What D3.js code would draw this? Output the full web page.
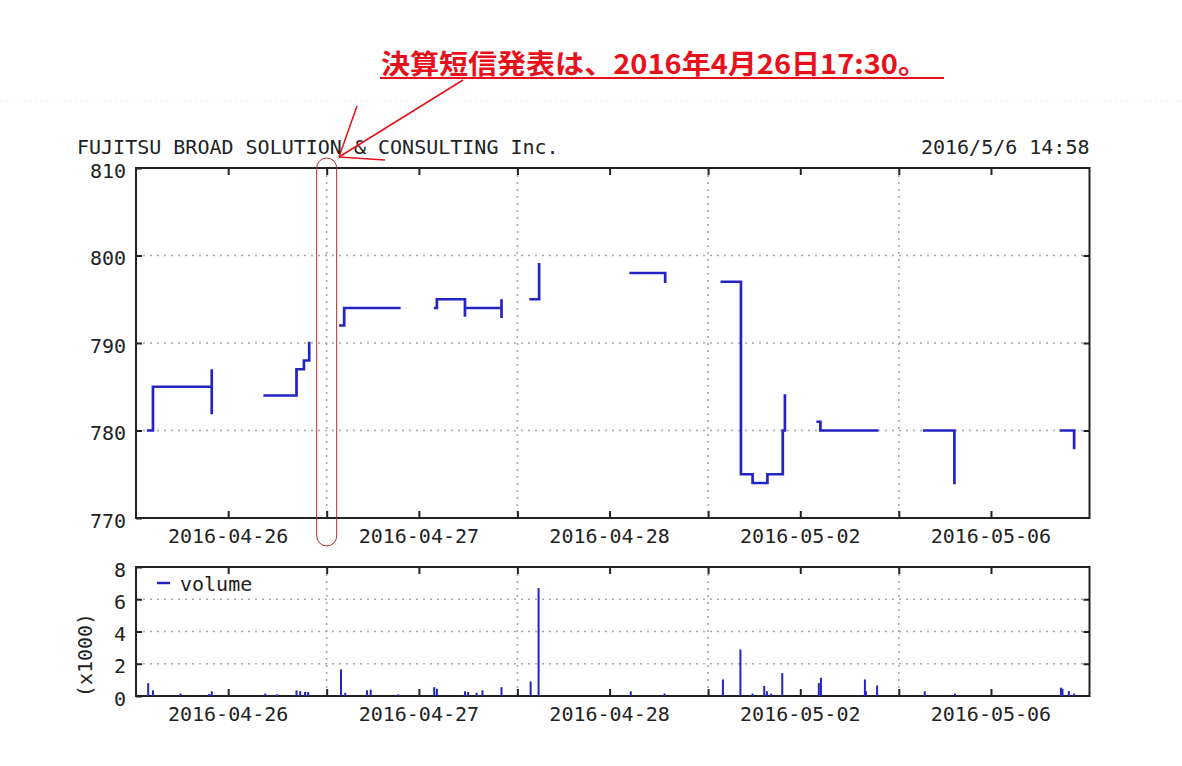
<!DOCTYPE html>
<html><head><meta charset="utf-8">
<script src="https://cdn.jsdelivr.net/npm/d3@7"></script>
<style>body{margin:0;background:#fff}svg{display:block}</style>
</head><body>
<svg id="c" width="1182" height="766"></svg>
<script>
// ---------- data ----------
const days = ["2016-04-26","2016-04-27","2016-04-28","2016-05-02","2016-05-06"];
const dayLabelTime = "11:54";
const priceTicks = [770,780,790,800,810];
const volumeTicks = [0,2,4,6,8];
const chartTitle = "FUJITSU BROAD SOLUTION & CONSULTING Inc.";
const chartStamp = "2016/5/6 14:58";
const noteText = "決算短信発表は、2016年4月26日17:30。";

// price segments: [dayIndex, time, price]
const price0426am = [[0,"09:23",780],[0,"09:32",785],[0,"11:23",787],[0,"11:23",782]];
const price0426pm = [[0,"13:03",784],[0,"14:03",787],[0,"14:17",788],[0,"14:27",790]];
const price0427am = [[1,"09:26",792],[1,"09:33",794],[1,"11:17",794]];
const price0427pm = [[1,"12:25",794],[1,"12:28",795],[1,"13:21",793],[1,"13:21",794],[1,"14:30",795],[1,"14:30",793]];
const price0428am = [[2,"09:25",795],[2,"09:41",799]];
const price0428pm = [[2,"12:34",798],[2,"13:39",797]];
const price0502am = [[3,"09:26",797],[3,"10:02",775],[3,"10:24",774],[3,"10:52",775],[3,"11:21",780],[3,"11:25",784]];
const price0502pm = [[3,"12:27",781],[3,"12:32",780],[3,"14:19",780]];
const price0506am = [[4,"09:48",780],[4,"10:45",774]];
const price0506pm = [[4,"14:06",780],[4,"14:31",778]];
const priceSegments = [price0426am,price0426pm,price0427am,price0427pm,price0428am,
                       price0428pm,price0502am,price0502pm,price0506am,price0506pm];

// volume: [dayIndex, time, shares]
const vol0426 = [[0,"09:23",800],[0,"09:32",350],[0,"10:24",150],[0,"11:18",120],[0,"11:23",290],
                 [0,"13:04",150],[0,"13:26",100],[0,"14:03",350],[0,"14:10",300],[0,"14:19",250],[0,"14:25",250]];
const vol0427 = [[1,"09:27",1650],[1,"09:35",200],[1,"10:16",350],[1,"10:23",400],[1,"11:15",100],
                 [1,"12:23",550],[1,"12:28",450],[1,"13:21",290],[1,"13:27",250],[1,"13:43",200],[1,"13:54",350],[1,"14:30",550]];
const vol0428 = [[2,"09:25",900],[2,"09:40",6700],[2,"12:34",290],[2,"13:38",150]];
const vol0502 = [[3,"09:28",1030],[3,"10:01",2890],[3,"10:24",150],[3,"10:46",630],[3,"10:51",300],[3,"10:59",150],
                 [3,"11:20",1420],[3,"12:29",800],[3,"12:33",1130],[3,"13:56",1030],[3,"13:58",300],[3,"14:19",650]];
const vol0506 = [[4,"09:49",290],[4,"10:46",150],[4,"14:06",520],[4,"14:09",450],[4,"14:21",300],[4,"14:31",150]];
const volumeData = [].concat(vol0426,vol0427,vol0428,vol0502,vol0506);

// ---------- setup ----------
const svg = d3.select("#c");
const MONO = "'DejaVu Sans Mono', 'Liberation Mono', monospace";
const INK = "#222";
const BLUE = "#2424c2";
const GRID = "#a8a8a8";
const L = 136, R = 1089.5;
const minutesPerDay = 360;
const tOf = (d, hm) => { const [h,m] = hm.split(":").map(Number); return d*minutesPerDay + (h*60+m) - 540; };

const x = d3.scaleLinear().domain([0, days.length*minutesPerDay]).range([L, R]);
const yP = d3.scaleLinear().domain([770, 810]).range([518, 168]);
const yV = d3.scaleLinear().domain([0, 8000]).range([696, 567]);

// faint page line
svg.append("line").attr("x1",0).attr("x2",1182).attr("y1",101).attr("y2",101)
  .attr("stroke","#ececec").attr("stroke-dasharray","2,3");

function panel(y, ticks, tickFmt, gridVals, dayLabelY) {
  const [b, t] = y.range();
  const g = svg.append("g");
  gridVals.forEach(v => g.append("line").attr("x1",L).attr("x2",R).attr("y1",y(v)).attr("y2",y(v))
    .attr("stroke",GRID).attr("stroke-width",1.6).attr("stroke-dasharray","2,5"));
  for (let d = 1; d < days.length; d++) {
    g.append("line").attr("x1",x(d*minutesPerDay)).attr("x2",x(d*minutesPerDay)).attr("y1",t).attr("y2",b)
      .attr("stroke",GRID).attr("stroke-width",1.6).attr("stroke-dasharray","2,5");
  }
  const left = d3.axisLeft(y).tickValues(ticks).tickSize(-6).tickPadding(10).tickFormat(tickFmt);
  const la = g.append("g").attr("transform",`translate(${L},0)`).call(left);
  la.select(".domain").remove();
  la.selectAll("line").attr("stroke",INK).attr("stroke-width",2);
  la.selectAll("text").attr("font-family",MONO).attr("font-size",20).attr("fill",INK).attr("dy","0.45em");
  const right = d3.axisRight(y).tickValues(ticks.slice(1,-1)).tickSize(-6).tickFormat("");
  const ra = g.append("g").attr("transform",`translate(${R},0)`).call(right);
  ra.select(".domain").remove();
  ra.selectAll("line").attr("stroke",INK).attr("stroke-width",2);
  const mids = days.map((d,i) => tOf(i, dayLabelTime));
  const bounds = d3.range(1, days.length).map(d => d*minutesPerDay);
  const xt = mids.concat(bounds);
  const bottom = d3.axisBottom(x).tickValues(xt).tickSize(-7).tickFormat("");
  const ba = g.append("g").attr("transform",`translate(0,${b})`).call(bottom);
  ba.select(".domain").remove(); ba.selectAll("line").attr("stroke",INK).attr("stroke-width",2);
  const top = d3.axisTop(x).tickValues(xt).tickSize(-7).tickFormat("");
  const ta = g.append("g").attr("transform",`translate(0,${t})`).call(top);
  ta.select(".domain").remove(); ta.selectAll("line").attr("stroke",INK).attr("stroke-width",2);
  days.forEach((d,i) => g.append("text").attr("x",x(mids[i])).attr("y",dayLabelY)
    .attr("text-anchor","middle").attr("font-family",MONO).attr("font-size",20).attr("fill",INK).text(d));
  g.append("rect").attr("x",L).attr("y",t).attr("width",R-L).attr("height",b-t)
    .attr("fill","none").attr("stroke",INK).attr("stroke-width",2);
  return g;
}

panel(yP, priceTicks, d3.format("d"), [780,790,800], 543);
panel(yV, volumeTicks.map(v=>v*1000), v => v/1000, [2000,4000,6000], 721);

// price line
const line = d3.line().x(p => x(tOf(p[0],p[1]))).y(p => yP(p[2])).curve(d3.curveStepAfter);
svg.append("g").selectAll("path").data(priceSegments).join("path")
  .attr("d", line).attr("fill","none").attr("stroke",BLUE).attr("stroke-width",2.7)
  .attr("stroke-linejoin","miter").attr("stroke-linecap","square");

// volume bars
svg.append("g").selectAll("line").data(volumeData).join("line")
  .attr("x1", p => x(tOf(p[0],p[1]))).attr("x2", p => x(tOf(p[0],p[1])))
  .attr("y1", yV(0)).attr("y2", p => yV(p[2]))
  .attr("stroke",BLUE).attr("stroke-width",2);

// legend
svg.append("line").attr("x1",157).attr("x2",170).attr("y1",583).attr("y2",583).attr("stroke",BLUE).attr("stroke-width",2.5);
svg.append("text").attr("x",180).attr("y",591).attr("font-family",MONO).attr("font-size",20).attr("fill",INK).text("volume");
svg.append("text").attr("transform","translate(92,655) rotate(-90)").attr("text-anchor","middle")
  .attr("font-family",MONO).attr("font-size",20).attr("fill",INK).text("(x1000)");

// title + stamp
svg.append("text").attr("x",77).attr("y",154).attr("font-family",MONO).attr("font-size",20).attr("fill",INK).text(chartTitle);
svg.append("text").attr("x",R).attr("y",154).attr("text-anchor","end").attr("font-family",MONO).attr("font-size",20).attr("fill",INK).text(chartStamp);

// annotation
const RED = "#e8101a";
svg.append("text").attr("x",381).attr("y",74).attr("font-family","'Noto Sans CJK JP', sans-serif")
  .attr("font-weight",700).attr("font-size",27).attr("fill",RED)
  .attr("textLength",546).attr("lengthAdjust","spacingAndGlyphs").text(noteText);
svg.append("line").attr("x1",380).attr("x2",944).attr("y1",78).attr("y2",78).attr("stroke",RED).attr("stroke-width",2);
const tip = [339,157];
[[463,80],[357,106],[385,160]].forEach(p => svg.append("line")
  .attr("x1",p[0]).attr("y1",p[1]).attr("x2",tip[0]).attr("y2",tip[1]).attr("stroke",RED).attr("stroke-width",1.5));
const bx = x(minutesPerDay);
svg.append("rect").attr("x",bx-10).attr("y",158).attr("width",20).attr("height",388)
  .attr("rx",10).attr("ry",10).attr("fill","none").attr("stroke","#b02828").attr("stroke-width",1);
</script>
</body></html>
